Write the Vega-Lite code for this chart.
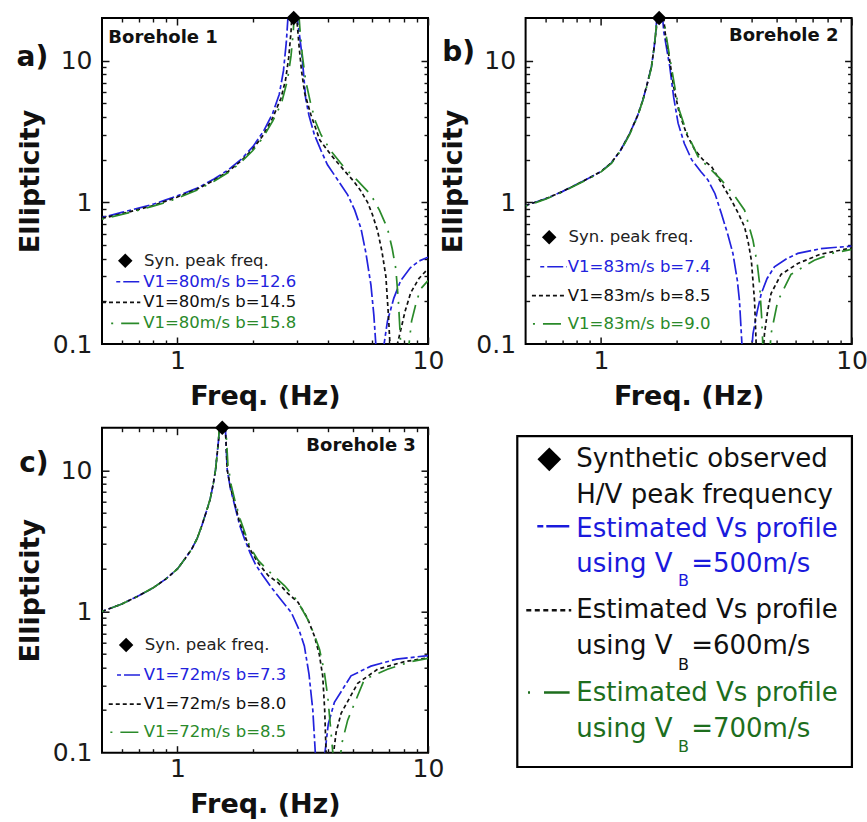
{
"$schema": "https://vega.github.io/schema/vega-lite/v6.json",
"background": "white",
"padding": {"left": 15, "top": 9, "right": 5, "bottom": 5},
"config": {"view": {"stroke": "black", "strokeWidth": 2}, "font": "DejaVu Sans"},
"datasets": {
"curves": [
{"p":"a","s":"b","f":0.5,"E":0.78},{"p":"a","s":"b","f":0.6,"E":0.85},{"p":"a","s":"b","f":0.7,"E":0.91},{"p":"a","s":"b","f":0.8,"E":0.97},{"p":"a","s":"b","f":0.9,"E":1.04},{"p":"a","s":"b","f":1.0,"E":1.11},{"p":"a","s":"b","f":1.2,"E":1.26},{"p":"a","s":"b","f":1.4,"E":1.46},{"p":"a","s":"b","f":1.6,"E":1.7},{"p":"a","s":"b","f":1.8,"E":2.02},{"p":"a","s":"b","f":2.0,"E":2.47},{"p":"a","s":"b","f":2.2,"E":3.15},{"p":"a","s":"b","f":2.4,"E":4.25},{"p":"a","s":"b","f":2.55,"E":5.8},{"p":"a","s":"b","f":2.65,"E":8.5},{"p":"a","s":"b","f":2.72,"E":13.5},{"p":"a","s":"b","f":2.77,"E":22},{"p":"a","s":"b","f":2.82,"E":45},{"p":"a","s":"b","f":2.88,"E":40},{"p":"a","s":"b","f":2.95,"E":28},{"p":"a","s":"b","f":3.02,"E":19},{"p":"a","s":"b","f":3.08,"E":14.5},{"p":"a","s":"b","f":3.13,"E":11.5},{"p":"a","s":"b","f":3.19,"E":8},{"p":"a","s":"b","f":3.25,"E":5.4},{"p":"a","s":"b","f":3.35,"E":4.1},{"p":"a","s":"b","f":3.52,"E":3.0},{"p":"a","s":"b","f":3.75,"E":2.3},{"p":"a","s":"b","f":3.97,"E":1.84},{"p":"a","s":"b","f":4.35,"E":1.45},{"p":"a","s":"b","f":4.78,"E":1.13},{"p":"a","s":"b","f":5.1,"E":0.88},{"p":"a","s":"b","f":5.4,"E":0.655},{"p":"a","s":"b","f":5.65,"E":0.44},{"p":"a","s":"b","f":5.92,"E":0.26},{"p":"a","s":"b","f":6.08,"E":0.16},{"p":"a","s":"b","f":6.19,"E":0.1},{"p":"a","s":"b","f":6.32,"E":0.04},{"p":"a","s":"b","f":6.45,"E":0.015},{"p":"a","s":"b","f":6.57,"E":0.04},{"p":"a","s":"b","f":6.68,"E":0.1},{"p":"a","s":"b","f":6.89,"E":0.145},{"p":"a","s":"b","f":7.3,"E":0.21},{"p":"a","s":"b","f":7.78,"E":0.28},{"p":"a","s":"b","f":8.5,"E":0.345},{"p":"a","s":"b","f":9.2,"E":0.385},{"p":"a","s":"b","f":10,"E":0.41},
{"p":"a","s":"k","f":0.5,"E":0.77},{"p":"a","s":"k","f":0.6,"E":0.83},{"p":"a","s":"k","f":0.7,"E":0.89},{"p":"a","s":"k","f":0.8,"E":0.95},{"p":"a","s":"k","f":0.9,"E":1.02},{"p":"a","s":"k","f":1.0,"E":1.09},{"p":"a","s":"k","f":1.2,"E":1.24},{"p":"a","s":"k","f":1.4,"E":1.43},{"p":"a","s":"k","f":1.6,"E":1.66},{"p":"a","s":"k","f":1.8,"E":1.97},{"p":"a","s":"k","f":2.0,"E":2.38},{"p":"a","s":"k","f":2.2,"E":2.98},{"p":"a","s":"k","f":2.4,"E":3.95},{"p":"a","s":"k","f":2.59,"E":5.43},{"p":"a","s":"k","f":2.7,"E":7.3},{"p":"a","s":"k","f":2.78,"E":10.5},{"p":"a","s":"k","f":2.84,"E":16},{"p":"a","s":"k","f":2.88,"E":26},{"p":"a","s":"k","f":2.91,"E":45},{"p":"a","s":"k","f":2.95,"E":30},{"p":"a","s":"k","f":3.0,"E":19},{"p":"a","s":"k","f":3.06,"E":12.5},{"p":"a","s":"k","f":3.13,"E":8.4},{"p":"a","s":"k","f":3.22,"E":5.9},{"p":"a","s":"k","f":3.41,"E":4.15},{"p":"a","s":"k","f":3.7,"E":2.75},{"p":"a","s":"k","f":4.1,"E":2.16},{"p":"a","s":"k","f":4.6,"E":1.7},{"p":"a","s":"k","f":5.07,"E":1.4},{"p":"a","s":"k","f":5.4,"E":1.2},{"p":"a","s":"k","f":5.74,"E":1.0},{"p":"a","s":"k","f":6.0,"E":0.82},{"p":"a","s":"k","f":6.29,"E":0.63},{"p":"a","s":"k","f":6.55,"E":0.45},{"p":"a","s":"k","f":6.79,"E":0.3},{"p":"a","s":"k","f":6.95,"E":0.16},{"p":"a","s":"k","f":7.05,"E":0.1},{"p":"a","s":"k","f":7.2,"E":0.03},{"p":"a","s":"k","f":7.35,"E":0.06},{"p":"a","s":"k","f":7.55,"E":0.1},{"p":"a","s":"k","f":7.78,"E":0.125},{"p":"a","s":"k","f":8.1,"E":0.17},{"p":"a","s":"k","f":8.53,"E":0.23},{"p":"a","s":"k","f":9.2,"E":0.29},{"p":"a","s":"k","f":10,"E":0.34},
{"p":"a","s":"g","f":0.5,"E":0.76},{"p":"a","s":"g","f":0.6,"E":0.82},{"p":"a","s":"g","f":0.7,"E":0.88},{"p":"a","s":"g","f":0.8,"E":0.94},{"p":"a","s":"g","f":0.9,"E":1.0},{"p":"a","s":"g","f":1.0,"E":1.07},{"p":"a","s":"g","f":1.2,"E":1.22},{"p":"a","s":"g","f":1.4,"E":1.41},{"p":"a","s":"g","f":1.6,"E":1.63},{"p":"a","s":"g","f":1.8,"E":1.93},{"p":"a","s":"g","f":2.0,"E":2.32},{"p":"a","s":"g","f":2.2,"E":2.88},{"p":"a","s":"g","f":2.4,"E":3.75},{"p":"a","s":"g","f":2.6,"E":5.0},{"p":"a","s":"g","f":2.75,"E":7.3},{"p":"a","s":"g","f":2.84,"E":10.8},{"p":"a","s":"g","f":2.9,"E":16},{"p":"a","s":"g","f":2.94,"E":26},{"p":"a","s":"g","f":2.97,"E":45},{"p":"a","s":"g","f":3.02,"E":28},{"p":"a","s":"g","f":3.08,"E":17},{"p":"a","s":"g","f":3.15,"E":11},{"p":"a","s":"g","f":3.25,"E":7.2},{"p":"a","s":"g","f":3.4,"E":5.0},{"p":"a","s":"g","f":3.56,"E":3.7},{"p":"a","s":"g","f":3.74,"E":3.0},{"p":"a","s":"g","f":4.1,"E":2.3},{"p":"a","s":"g","f":4.63,"E":1.76},{"p":"a","s":"g","f":5.2,"E":1.44},{"p":"a","s":"g","f":5.92,"E":1.13},{"p":"a","s":"g","f":6.4,"E":0.88},{"p":"a","s":"g","f":6.89,"E":0.655},{"p":"a","s":"g","f":7.2,"E":0.47},{"p":"a","s":"g","f":7.44,"E":0.34},{"p":"a","s":"g","f":7.62,"E":0.2},{"p":"a","s":"g","f":7.78,"E":0.1},{"p":"a","s":"g","f":7.95,"E":0.04},{"p":"a","s":"g","f":8.1,"E":0.02},{"p":"a","s":"g","f":8.25,"E":0.06},{"p":"a","s":"g","f":8.4,"E":0.1},{"p":"a","s":"g","f":8.6,"E":0.145},{"p":"a","s":"g","f":9.0,"E":0.2},{"p":"a","s":"g","f":9.35,"E":0.245},{"p":"a","s":"g","f":10,"E":0.28},
{"p":"b","s":"b","f":0.5,"E":0.95},{"p":"b","s":"b","f":0.6,"E":1.06},{"p":"b","s":"b","f":0.7,"E":1.19},{"p":"b","s":"b","f":0.8,"E":1.34},{"p":"b","s":"b","f":0.9,"E":1.49},{"p":"b","s":"b","f":1.0,"E":1.65},{"p":"b","s":"b","f":1.1,"E":1.9},{"p":"b","s":"b","f":1.2,"E":2.35},{"p":"b","s":"b","f":1.3,"E":3.05},{"p":"b","s":"b","f":1.4,"E":4.1},{"p":"b","s":"b","f":1.47,"E":5.3},{"p":"b","s":"b","f":1.53,"E":6.9},{"p":"b","s":"b","f":1.59,"E":9.1},{"p":"b","s":"b","f":1.63,"E":12.5},{"p":"b","s":"b","f":1.66,"E":17},{"p":"b","s":"b","f":1.68,"E":28},{"p":"b","s":"b","f":1.7,"E":45},{"p":"b","s":"b","f":1.74,"E":26},{"p":"b","s":"b","f":1.78,"E":16},{"p":"b","s":"b","f":1.83,"E":12},{"p":"b","s":"b","f":1.88,"E":9.1},{"p":"b","s":"b","f":1.95,"E":5.5},{"p":"b","s":"b","f":2.03,"E":3.62},{"p":"b","s":"b","f":2.15,"E":2.6},{"p":"b","s":"b","f":2.3,"E":2.0},{"p":"b","s":"b","f":2.5,"E":1.65},{"p":"b","s":"b","f":2.67,"E":1.44},{"p":"b","s":"b","f":2.85,"E":1.15},{"p":"b","s":"b","f":3.02,"E":0.836},{"p":"b","s":"b","f":3.2,"E":0.6},{"p":"b","s":"b","f":3.36,"E":0.436},{"p":"b","s":"b","f":3.5,"E":0.28},{"p":"b","s":"b","f":3.57,"E":0.2},{"p":"b","s":"b","f":3.65,"E":0.1},{"p":"b","s":"b","f":3.75,"E":0.04},{"p":"b","s":"b","f":3.85,"E":0.02},{"p":"b","s":"b","f":3.95,"E":0.07},{"p":"b","s":"b","f":4.04,"E":0.118},{"p":"b","s":"b","f":4.2,"E":0.17},{"p":"b","s":"b","f":4.36,"E":0.227},{"p":"b","s":"b","f":4.6,"E":0.29},{"p":"b","s":"b","f":4.92,"E":0.35},{"p":"b","s":"b","f":5.5,"E":0.4},{"p":"b","s":"b","f":6.1,"E":0.436},{"p":"b","s":"b","f":7.5,"E":0.47},{"p":"b","s":"b","f":8.5,"E":0.48},{"p":"b","s":"b","f":10,"E":0.49},
{"p":"b","s":"k","f":0.5,"E":0.95},{"p":"b","s":"k","f":0.6,"E":1.06},{"p":"b","s":"k","f":0.7,"E":1.19},{"p":"b","s":"k","f":0.8,"E":1.34},{"p":"b","s":"k","f":0.9,"E":1.49},{"p":"b","s":"k","f":1.0,"E":1.65},{"p":"b","s":"k","f":1.1,"E":1.9},{"p":"b","s":"k","f":1.2,"E":2.35},{"p":"b","s":"k","f":1.3,"E":3.05},{"p":"b","s":"k","f":1.4,"E":4.1},{"p":"b","s":"k","f":1.47,"E":5.3},{"p":"b","s":"k","f":1.53,"E":6.9},{"p":"b","s":"k","f":1.59,"E":9.1},{"p":"b","s":"k","f":1.63,"E":12.5},{"p":"b","s":"k","f":1.67,"E":18},{"p":"b","s":"k","f":1.69,"E":28},{"p":"b","s":"k","f":1.71,"E":45},{"p":"b","s":"k","f":1.73,"E":40},{"p":"b","s":"k","f":1.76,"E":25},{"p":"b","s":"k","f":1.8,"E":16},{"p":"b","s":"k","f":1.88,"E":10},{"p":"b","s":"k","f":1.95,"E":6.5},{"p":"b","s":"k","f":2.05,"E":4.3},{"p":"b","s":"k","f":2.2,"E":3.0},{"p":"b","s":"k","f":2.37,"E":2.34},{"p":"b","s":"k","f":2.55,"E":2.0},{"p":"b","s":"k","f":2.76,"E":1.79},{"p":"b","s":"k","f":3.0,"E":1.4},{"p":"b","s":"k","f":3.31,"E":1.04},{"p":"b","s":"k","f":3.55,"E":0.82},{"p":"b","s":"k","f":3.74,"E":0.67},{"p":"b","s":"k","f":3.87,"E":0.52},{"p":"b","s":"k","f":3.98,"E":0.39},{"p":"b","s":"k","f":4.1,"E":0.2},{"p":"b","s":"k","f":4.16,"E":0.1},{"p":"b","s":"k","f":4.25,"E":0.03},{"p":"b","s":"k","f":4.32,"E":0.02},{"p":"b","s":"k","f":4.4,"E":0.07},{"p":"b","s":"k","f":4.49,"E":0.118},{"p":"b","s":"k","f":4.62,"E":0.17},{"p":"b","s":"k","f":4.77,"E":0.227},{"p":"b","s":"k","f":5.23,"E":0.31},{"p":"b","s":"k","f":6.1,"E":0.37},{"p":"b","s":"k","f":7.5,"E":0.43},{"p":"b","s":"k","f":9.6,"E":0.47},{"p":"b","s":"k","f":10,"E":0.475},
{"p":"b","s":"g","f":0.5,"E":0.94},{"p":"b","s":"g","f":0.6,"E":1.05},{"p":"b","s":"g","f":0.7,"E":1.18},{"p":"b","s":"g","f":0.8,"E":1.33},{"p":"b","s":"g","f":0.9,"E":1.48},{"p":"b","s":"g","f":1.0,"E":1.64},{"p":"b","s":"g","f":1.1,"E":1.88},{"p":"b","s":"g","f":1.2,"E":2.32},{"p":"b","s":"g","f":1.3,"E":3.0},{"p":"b","s":"g","f":1.4,"E":4.05},{"p":"b","s":"g","f":1.47,"E":5.25},{"p":"b","s":"g","f":1.53,"E":6.8},{"p":"b","s":"g","f":1.59,"E":9.0},{"p":"b","s":"g","f":1.63,"E":12.5},{"p":"b","s":"g","f":1.66,"E":17},{"p":"b","s":"g","f":1.68,"E":27},{"p":"b","s":"g","f":1.7,"E":45},{"p":"b","s":"g","f":1.74,"E":35},{"p":"b","s":"g","f":1.77,"E":22},{"p":"b","s":"g","f":1.82,"E":15},{"p":"b","s":"g","f":1.9,"E":9.5},{"p":"b","s":"g","f":1.97,"E":6.5},{"p":"b","s":"g","f":2.05,"E":4.5},{"p":"b","s":"g","f":2.2,"E":3.1},{"p":"b","s":"g","f":2.44,"E":2.1},{"p":"b","s":"g","f":2.7,"E":1.75},{"p":"b","s":"g","f":3.02,"E":1.44},{"p":"b","s":"g","f":3.4,"E":1.12},{"p":"b","s":"g","f":3.74,"E":0.88},{"p":"b","s":"g","f":4.04,"E":0.54},{"p":"b","s":"g","f":4.2,"E":0.37},{"p":"b","s":"g","f":4.29,"E":0.27},{"p":"b","s":"g","f":4.38,"E":0.15},{"p":"b","s":"g","f":4.42,"E":0.1},{"p":"b","s":"g","f":4.52,"E":0.03},{"p":"b","s":"g","f":4.62,"E":0.03},{"p":"b","s":"g","f":4.7,"E":0.08},{"p":"b","s":"g","f":4.77,"E":0.118},{"p":"b","s":"g","f":5.07,"E":0.2},{"p":"b","s":"g","f":5.73,"E":0.31},{"p":"b","s":"g","f":7.1,"E":0.39},{"p":"b","s":"g","f":8.5,"E":0.44},{"p":"b","s":"g","f":10,"E":0.465},
{"p":"c","s":"b","f":0.5,"E":1.0},{"p":"c","s":"b","f":0.6,"E":1.13},{"p":"c","s":"b","f":0.7,"E":1.29},{"p":"c","s":"b","f":0.8,"E":1.47},{"p":"c","s":"b","f":0.9,"E":1.7},{"p":"c","s":"b","f":1.0,"E":2.0},{"p":"c","s":"b","f":1.07,"E":2.35},{"p":"c","s":"b","f":1.14,"E":2.76},{"p":"c","s":"b","f":1.2,"E":3.3},{"p":"c","s":"b","f":1.25,"E":4.03},{"p":"c","s":"b","f":1.3,"E":5.0},{"p":"c","s":"b","f":1.35,"E":6.2},{"p":"c","s":"b","f":1.39,"E":8.0},{"p":"c","s":"b","f":1.42,"E":10.1},{"p":"c","s":"b","f":1.46,"E":16.5},{"p":"c","s":"b","f":1.49,"E":30},{"p":"c","s":"b","f":1.51,"E":50},{"p":"c","s":"b","f":1.53,"E":40},{"p":"c","s":"b","f":1.55,"E":22},{"p":"c","s":"b","f":1.58,"E":10.1},{"p":"c","s":"b","f":1.63,"E":7.3},{"p":"c","s":"b","f":1.69,"E":5.7},{"p":"c","s":"b","f":1.77,"E":4.1},{"p":"c","s":"b","f":1.86,"E":3.2},{"p":"c","s":"b","f":1.95,"E":2.6},{"p":"c","s":"b","f":2.05,"E":2.15},{"p":"c","s":"b","f":2.2,"E":1.78},{"p":"c","s":"b","f":2.37,"E":1.48},{"p":"c","s":"b","f":2.6,"E":1.2},{"p":"c","s":"b","f":2.85,"E":0.98},{"p":"c","s":"b","f":3.05,"E":0.75},{"p":"c","s":"b","f":3.21,"E":0.57},{"p":"c","s":"b","f":3.35,"E":0.36},{"p":"c","s":"b","f":3.47,"E":0.2},{"p":"c","s":"b","f":3.55,"E":0.1},{"p":"c","s":"b","f":3.7,"E":0.03},{"p":"c","s":"b","f":3.88,"E":0.1},{"p":"c","s":"b","f":4.0,"E":0.16},{"p":"c","s":"b","f":4.23,"E":0.227},{"p":"c","s":"b","f":4.93,"E":0.35},{"p":"c","s":"b","f":5.92,"E":0.41},{"p":"c","s":"b","f":7.5,"E":0.46},{"p":"c","s":"b","f":10,"E":0.487},
{"p":"c","s":"k","f":0.5,"E":1.0},{"p":"c","s":"k","f":0.6,"E":1.13},{"p":"c","s":"k","f":0.7,"E":1.29},{"p":"c","s":"k","f":0.8,"E":1.47},{"p":"c","s":"k","f":0.9,"E":1.7},{"p":"c","s":"k","f":1.0,"E":2.0},{"p":"c","s":"k","f":1.07,"E":2.35},{"p":"c","s":"k","f":1.14,"E":2.76},{"p":"c","s":"k","f":1.2,"E":3.3},{"p":"c","s":"k","f":1.25,"E":4.03},{"p":"c","s":"k","f":1.3,"E":5.0},{"p":"c","s":"k","f":1.35,"E":6.2},{"p":"c","s":"k","f":1.39,"E":8.0},{"p":"c","s":"k","f":1.42,"E":10.1},{"p":"c","s":"k","f":1.46,"E":16.5},{"p":"c","s":"k","f":1.49,"E":30},{"p":"c","s":"k","f":1.51,"E":50},{"p":"c","s":"k","f":1.53,"E":40},{"p":"c","s":"k","f":1.55,"E":22},{"p":"c","s":"k","f":1.58,"E":10.1},{"p":"c","s":"k","f":1.63,"E":7.5},{"p":"c","s":"k","f":1.69,"E":5.9},{"p":"c","s":"k","f":1.77,"E":4.3},{"p":"c","s":"k","f":1.86,"E":3.42},{"p":"c","s":"k","f":1.95,"E":2.75},{"p":"c","s":"k","f":2.1,"E":2.2},{"p":"c","s":"k","f":2.3,"E":1.8},{"p":"c","s":"k","f":2.52,"E":1.6},{"p":"c","s":"k","f":2.75,"E":1.35},{"p":"c","s":"k","f":3.03,"E":1.16},{"p":"c","s":"k","f":3.3,"E":0.9},{"p":"c","s":"k","f":3.52,"E":0.67},{"p":"c","s":"k","f":3.68,"E":0.5},{"p":"c","s":"k","f":3.8,"E":0.35},{"p":"c","s":"k","f":3.87,"E":0.2},{"p":"c","s":"k","f":3.92,"E":0.1},{"p":"c","s":"k","f":4.0,"E":0.03},{"p":"c","s":"k","f":4.1,"E":0.06},{"p":"c","s":"k","f":4.2,"E":0.1},{"p":"c","s":"k","f":4.3,"E":0.14},{"p":"c","s":"k","f":4.5,"E":0.19},{"p":"c","s":"k","f":5.24,"E":0.31},{"p":"c","s":"k","f":6.29,"E":0.39},{"p":"c","s":"k","f":8,"E":0.44},{"p":"c","s":"k","f":10,"E":0.47},
{"p":"c","s":"g","f":0.5,"E":1.0},{"p":"c","s":"g","f":0.6,"E":1.13},{"p":"c","s":"g","f":0.7,"E":1.29},{"p":"c","s":"g","f":0.8,"E":1.47},{"p":"c","s":"g","f":0.9,"E":1.7},{"p":"c","s":"g","f":1.0,"E":2.0},{"p":"c","s":"g","f":1.07,"E":2.35},{"p":"c","s":"g","f":1.14,"E":2.76},{"p":"c","s":"g","f":1.2,"E":3.3},{"p":"c","s":"g","f":1.25,"E":4.03},{"p":"c","s":"g","f":1.3,"E":5.0},{"p":"c","s":"g","f":1.35,"E":6.2},{"p":"c","s":"g","f":1.39,"E":8.0},{"p":"c","s":"g","f":1.42,"E":10.1},{"p":"c","s":"g","f":1.46,"E":16.5},{"p":"c","s":"g","f":1.5,"E":40},{"p":"c","s":"g","f":1.52,"E":50},{"p":"c","s":"g","f":1.54,"E":35},{"p":"c","s":"g","f":1.56,"E":20},{"p":"c","s":"g","f":1.59,"E":11},{"p":"c","s":"g","f":1.64,"E":7.8},{"p":"c","s":"g","f":1.7,"E":6.0},{"p":"c","s":"g","f":1.78,"E":4.5},{"p":"c","s":"g","f":1.86,"E":3.6},{"p":"c","s":"g","f":1.95,"E":2.85},{"p":"c","s":"g","f":2.1,"E":2.3},{"p":"c","s":"g","f":2.3,"E":1.95},{"p":"c","s":"g","f":2.5,"E":1.7},{"p":"c","s":"g","f":2.68,"E":1.52},{"p":"c","s":"g","f":3.0,"E":1.2},{"p":"c","s":"g","f":3.31,"E":0.88},{"p":"c","s":"g","f":3.5,"E":0.7},{"p":"c","s":"g","f":3.69,"E":0.54},{"p":"c","s":"g","f":3.85,"E":0.38},{"p":"c","s":"g","f":3.98,"E":0.25},{"p":"c","s":"g","f":4.1,"E":0.14},{"p":"c","s":"g","f":4.17,"E":0.1},{"p":"c","s":"g","f":4.25,"E":0.04},{"p":"c","s":"g","f":4.35,"E":0.04},{"p":"c","s":"g","f":4.45,"E":0.09},{"p":"c","s":"g","f":4.55,"E":0.12},{"p":"c","s":"g","f":4.78,"E":0.17},{"p":"c","s":"g","f":5.57,"E":0.33},{"p":"c","s":"g","f":6.89,"E":0.39},{"p":"c","s":"g","f":8.5,"E":0.44},{"p":"c","s":"g","f":10,"E":0.465}
],
"diamonds": [
{"p":"a","f":2.91,"E":20},{"p":"b","f":1.706,"E":20},{"p":"c","f":1.51,"E":20},
{"p":"a","f":0.619,"E":0.387},{"p":"b","f":0.621,"E":0.566},{"p":"c","f":0.624,"E":0.578}
],
"legtext": [
{"p":"a","s":"n","f":0.735,"E":0.387,"t":"Syn. peak freq."},{"p":"a","s":"b","f":0.73,"E":0.275,"t":"V1=80m/s b=12.6"},{"p":"a","s":"k","f":0.73,"E":0.197,"t":"V1=80m/s b=14.5"},{"p":"a","s":"g","f":0.73,"E":0.14,"t":"V1=80m/s b=15.8"},
{"p":"b","s":"n","f":0.742,"E":0.566,"t":"Syn. peak freq."},{"p":"b","s":"b","f":0.737,"E":0.351,"t":"V1=83m/s b=7.4"},{"p":"b","s":"k","f":0.737,"E":0.2195,"t":"V1=83m/s b=8.5"},{"p":"b","s":"g","f":0.737,"E":0.1386,"t":"V1=83m/s b=9.0"},
{"p":"c","s":"n","f":0.74,"E":0.578,"t":"Syn. peak freq."},{"p":"c","s":"b","f":0.733,"E":0.355,"t":"V1=72m/s b=7.3"},{"p":"c","s":"k","f":0.733,"E":0.221,"t":"V1=72m/s b=8.0"},{"p":"c","s":"g","f":0.733,"E":0.1396,"t":"V1=72m/s b=8.5"}
],
"legrules": [
{"p":"a","s":"b","f1":0.57,"f2":0.711,"E":0.275},{"p":"a","s":"k","f1":0.5,"f2":0.711,"E":0.197},{"p":"a","s":"g","f1":0.544,"f2":0.704,"E":0.14},
{"p":"b","s":"b","f1":0.572,"f2":0.73,"E":0.351},{"p":"b","s":"k","f1":0.53,"f2":0.73,"E":0.2195},{"p":"b","s":"g","f1":0.535,"f2":0.73,"E":0.1386},
{"p":"c","s":"b","f1":0.574,"f2":0.722,"E":0.355},{"p":"c","s":"k","f1":0.532,"f2":0.722,"E":0.221},{"p":"c","s":"g","f1":0.54,"f2":0.722,"E":0.1396}
],
"letters": [
{"p":"a","f":0.228,"E":10.37,"t":"a)"},{"p":"b","f":0.2324,"E":11.24,"t":"b)"},{"p":"c","f":0.2335,"E":11.06,"t":"c)"}
],
"boreholes": [
{"p":"a","f":0.53,"E":14.35,"t":"Borehole 1"},{"p":"b","f":3.24,"E":14.89,"t":"Borehole 2"},{"p":"c","f":3.27,"E":14.9,"t":"Borehole 3"}
],
"bigtext": [
{"x":15.55,"y":90.7,"t":"Synthetic observed","s":"n"},
{"x":15.55,"y":80.1,"t":"H/V peak frequency","s":"n"},
{"x":15.55,"y":70.2,"t":"Estimated Vs profile","s":"b"},
{"x":15.55,"y":60.0,"t":"using V","s":"b"},
{"x":50.8,"y":60.0,"t":"=500m/s","s":"b"},
{"x":15.55,"y":46.3,"t":"Estimated Vs profile","s":"k"},
{"x":15.55,"y":35.8,"t":"using V","s":"k"},
{"x":50.8,"y":35.8,"t":"=600m/s","s":"k"},
{"x":15.55,"y":22.1,"t":"Estimated Vs profile","s":"g"},
{"x":15.55,"y":11.5,"t":"using V","s":"g"},
{"x":50.8,"y":11.5,"t":"=700m/s","s":"g"}
],
"bigsub": [
{"x":46.75,"y":54.8,"t":"B","s":"b"},{"x":46.75,"y":30.3,"t":"B","s":"k"},{"x":46.75,"y":6.1,"t":"B","s":"g"}
],
"bigrules": [
{"x1":3.59,"x2":13.4,"y":71.0,"s":"b"},{"x1":0.21,"x2":14.0,"y":46.3,"s":"k"},{"x1":0.74,"x2":13.5,"y":22.1,"s":"g"}
],
"bigdiamond": [{"x":7.27,"y":90.7}],
"bigbox": [{"x1":-2.55,"x2":100.1,"y1":0.2,"y2":97.5}]
},
"resolve": {"scale": {"x": "independent", "y": "independent", "color": "independent", "strokeDash": "independent"}},
"bounds": "flush",
"columns": 2,
"spacing": {"row": 83.7, "column": 97.6},
"concat": [
{
"width": 326, "height": 326,
"resolve": {"axis": {"x": "independent", "y": "independent"}},
"layer": [
{"data": {"name": "curves"}, "transform": [{"filter": "datum.p == 'a'"}],
 "mark": {"type": "line", "clip": true, "strokeWidth": 1.7},
 "encoding": {
  "x": {"field": "f", "type": "quantitative", "scale": {"type": "log", "domain": [0.5, 10], "nice": false}, "axis": {"orient": "bottom", "values": [1, 10], "format": "~g", "ticks": false, "domain": false, "grid": false, "labelFont": "DejaVu Sans", "labelFontSize": 25, "labelColor": "#1a1a1a", "labelPadding": 4, "labelFlush": false, "labelOverlap": false, "title": "Freq. (Hz)", "titleFont": "DejaVu Sans", "titleFontSize": 27, "titleFontWeight": "bold", "titleColor": "#111111", "titlePadding": 10}},
  "y": {"field": "E", "type": "quantitative", "scale": {"type": "log", "domain": [0.1, 20], "nice": false}, "axis": {"orient": "left", "values": [0.1, 1, 10], "format": "~g", "ticks": false, "domain": false, "grid": false, "labelFont": "DejaVu Sans", "labelFontSize": 25, "labelColor": "#1a1a1a", "labelPadding": 10, "labelFlush": false, "labelOverlap": false, "title": "Ellipticity", "titleFont": "DejaVu Sans", "titleFontSize": 27, "titleFontWeight": "bold", "titleColor": "#111111", "titlePadding": 8}},
  "color": {"field": "s", "type": "nominal", "scale": {"domain": ["b", "k", "g", "n"], "range": ["#2222dd", "#111111", "#2a8a2a", "#222222"]}, "legend": null},
  "strokeDash": {"field": "s", "type": "nominal", "scale": {"domain": ["b", "k", "g"], "range": [[4, 3, 16, 3], [4, 3], [2, 8, 18, 8]]}, "legend": null}
 }},
{"data": {"name": "diamonds"}, "transform": [{"filter": "datum.p == 'a'"}],
 "mark": {"type": "point", "shape": "diamond", "filled": true, "color": "black", "size": 210, "opacity": 1},
 "encoding": {
  "x": {"field": "f", "type": "quantitative", "axis": {"orient": "bottom", "values": [1, 10], "labels": false, "domain": false, "grid": false, "ticks": true, "tickSize": -7, "tickWidth": 1.5, "tickColor": "#111111", "title": null}},
  "y": {"field": "E", "type": "quantitative", "axis": {"orient": "left", "values": [1, 10], "labels": false, "domain": false, "grid": false, "ticks": true, "tickSize": -7, "tickWidth": 1.5, "tickColor": "#111111", "title": null}}
 }},
{"data": {"name": "legtext"}, "transform": [{"filter": "datum.p == 'a'"}],
 "mark": {"type": "text", "align": "left", "baseline": "middle", "font": "DejaVu Sans", "fontSize": 16.5},
 "encoding": {
  "x": {"field": "f", "type": "quantitative", "axis": {"orient": "bottom", "values": [0.6, 0.7, 0.8, 0.9, 2, 3, 4, 5, 6, 7, 8, 9], "labels": false, "domain": false, "grid": false, "ticks": true, "tickSize": -4, "tickWidth": 1.4, "tickColor": "#111111", "title": null}},
  "y": {"field": "E", "type": "quantitative", "axis": {"orient": "left", "values": [0.2, 0.3, 0.4, 0.5, 0.6, 0.7, 0.8, 0.9, 2, 3, 4, 5, 6, 7, 8, 9], "labels": false, "domain": false, "grid": false, "ticks": true, "tickSize": -4, "tickWidth": 1.4, "tickColor": "#111111", "title": null}},
  "text": {"field": "t"},
  "color": {"field": "s", "type": "nominal", "legend": null}
 }},
{"data": {"name": "letters"}, "transform": [{"filter": "datum.p == 'a'"}],
 "mark": {"type": "text", "align": "left", "baseline": "middle", "font": "DejaVu Sans", "fontSize": 28, "fontWeight": "bold", "color": "#111111"},
 "encoding": {
  "x": {"field": "f", "type": "quantitative", "axis": {"orient": "top", "values": [1, 10], "labels": false, "domain": false, "grid": false, "ticks": true, "tickSize": -7, "tickWidth": 1.5, "tickColor": "#111111", "title": null}},
  "y": {"field": "E", "type": "quantitative", "axis": {"orient": "right", "values": [1, 10], "labels": false, "domain": false, "grid": false, "ticks": true, "tickSize": -7, "tickWidth": 1.5, "tickColor": "#111111", "title": null}},
  "text": {"field": "t"}
 }},
{"data": {"name": "boreholes"}, "transform": [{"filter": "datum.p == 'a'"}],
 "mark": {"type": "text", "align": "left", "baseline": "middle", "font": "DejaVu Sans", "fontSize": 18, "fontWeight": "bold", "color": "#111111"},
 "encoding": {
  "x": {"field": "f", "type": "quantitative", "axis": {"orient": "top", "values": [0.6, 0.7, 0.8, 0.9, 2, 3, 4, 5, 6, 7, 8, 9], "labels": false, "domain": false, "grid": false, "ticks": true, "tickSize": -4, "tickWidth": 1.4, "tickColor": "#111111", "title": null}},
  "y": {"field": "E", "type": "quantitative", "axis": {"orient": "right", "values": [0.2, 0.3, 0.4, 0.5, 0.6, 0.7, 0.8, 0.9, 2, 3, 4, 5, 6, 7, 8, 9], "labels": false, "domain": false, "grid": false, "ticks": true, "tickSize": -4, "tickWidth": 1.4, "tickColor": "#111111", "title": null}},
  "text": {"field": "t"}
 }},
{"data": {"name": "legrules"}, "transform": [{"filter": "datum.p == 'a'"}],
 "mark": {"type": "rule", "strokeWidth": 1.7},
 "encoding": {
  "x": {"field": "f1", "type": "quantitative", "axis": null},
  "x2": {"field": "f2"},
  "y": {"field": "E", "type": "quantitative", "axis": null},
  "color": {"field": "s", "type": "nominal", "legend": null},
  "strokeDash": {"field": "s", "type": "nominal", "legend": null}
 }}
]
},
{
"width": 326, "height": 326,
"resolve": {"axis": {"x": "independent", "y": "independent"}},
"layer": [
{"data": {"name": "curves"}, "transform": [{"filter": "datum.p == 'b'"}],
 "mark": {"type": "line", "clip": true, "strokeWidth": 1.7},
 "encoding": {
  "x": {"field": "f", "type": "quantitative", "scale": {"type": "log", "domain": [0.5, 10], "nice": false}, "axis": {"orient": "bottom", "values": [1, 10], "format": "~g", "ticks": false, "domain": false, "grid": false, "labelFont": "DejaVu Sans", "labelFontSize": 25, "labelColor": "#1a1a1a", "labelPadding": 4, "labelFlush": false, "labelOverlap": false, "title": "Freq. (Hz)", "titleFont": "DejaVu Sans", "titleFontSize": 27, "titleFontWeight": "bold", "titleColor": "#111111", "titlePadding": 10}},
  "y": {"field": "E", "type": "quantitative", "scale": {"type": "log", "domain": [0.1, 20], "nice": false}, "axis": {"orient": "left", "values": [0.1, 1, 10], "format": "~g", "ticks": false, "domain": false, "grid": false, "labelFont": "DejaVu Sans", "labelFontSize": 25, "labelColor": "#1a1a1a", "labelPadding": 10, "labelFlush": false, "labelOverlap": false, "title": "Ellipticity", "titleFont": "DejaVu Sans", "titleFontSize": 27, "titleFontWeight": "bold", "titleColor": "#111111", "titlePadding": 8}},
  "color": {"field": "s", "type": "nominal", "scale": {"domain": ["b", "k", "g", "n"], "range": ["#2222dd", "#111111", "#2a8a2a", "#222222"]}, "legend": null},
  "strokeDash": {"field": "s", "type": "nominal", "scale": {"domain": ["b", "k", "g"], "range": [[4, 3, 16, 3], [4, 3], [2, 8, 18, 8]]}, "legend": null}
 }},
{"data": {"name": "diamonds"}, "transform": [{"filter": "datum.p == 'b'"}],
 "mark": {"type": "point", "shape": "diamond", "filled": true, "color": "black", "size": 210, "opacity": 1},
 "encoding": {
  "x": {"field": "f", "type": "quantitative", "axis": {"orient": "bottom", "values": [1, 10], "labels": false, "domain": false, "grid": false, "ticks": true, "tickSize": -7, "tickWidth": 1.5, "tickColor": "#111111", "title": null}},
  "y": {"field": "E", "type": "quantitative", "axis": {"orient": "left", "values": [1, 10], "labels": false, "domain": false, "grid": false, "ticks": true, "tickSize": -7, "tickWidth": 1.5, "tickColor": "#111111", "title": null}}
 }},
{"data": {"name": "legtext"}, "transform": [{"filter": "datum.p == 'b'"}],
 "mark": {"type": "text", "align": "left", "baseline": "middle", "font": "DejaVu Sans", "fontSize": 16.5},
 "encoding": {
  "x": {"field": "f", "type": "quantitative", "axis": {"orient": "bottom", "values": [0.6, 0.7, 0.8, 0.9, 2, 3, 4, 5, 6, 7, 8, 9], "labels": false, "domain": false, "grid": false, "ticks": true, "tickSize": -4, "tickWidth": 1.4, "tickColor": "#111111", "title": null}},
  "y": {"field": "E", "type": "quantitative", "axis": {"orient": "left", "values": [0.2, 0.3, 0.4, 0.5, 0.6, 0.7, 0.8, 0.9, 2, 3, 4, 5, 6, 7, 8, 9], "labels": false, "domain": false, "grid": false, "ticks": true, "tickSize": -4, "tickWidth": 1.4, "tickColor": "#111111", "title": null}},
  "text": {"field": "t"},
  "color": {"field": "s", "type": "nominal", "legend": null}
 }},
{"data": {"name": "letters"}, "transform": [{"filter": "datum.p == 'b'"}],
 "mark": {"type": "text", "align": "left", "baseline": "middle", "font": "DejaVu Sans", "fontSize": 28, "fontWeight": "bold", "color": "#111111"},
 "encoding": {
  "x": {"field": "f", "type": "quantitative", "axis": {"orient": "top", "values": [1, 10], "labels": false, "domain": false, "grid": false, "ticks": true, "tickSize": -7, "tickWidth": 1.5, "tickColor": "#111111", "title": null}},
  "y": {"field": "E", "type": "quantitative", "axis": {"orient": "right", "values": [1, 10], "labels": false, "domain": false, "grid": false, "ticks": true, "tickSize": -7, "tickWidth": 1.5, "tickColor": "#111111", "title": null}},
  "text": {"field": "t"}
 }},
{"data": {"name": "boreholes"}, "transform": [{"filter": "datum.p == 'b'"}],
 "mark": {"type": "text", "align": "left", "baseline": "middle", "font": "DejaVu Sans", "fontSize": 18, "fontWeight": "bold", "color": "#111111"},
 "encoding": {
  "x": {"field": "f", "type": "quantitative", "axis": {"orient": "top", "values": [0.6, 0.7, 0.8, 0.9, 2, 3, 4, 5, 6, 7, 8, 9], "labels": false, "domain": false, "grid": false, "ticks": true, "tickSize": -4, "tickWidth": 1.4, "tickColor": "#111111", "title": null}},
  "y": {"field": "E", "type": "quantitative", "axis": {"orient": "right", "values": [0.2, 0.3, 0.4, 0.5, 0.6, 0.7, 0.8, 0.9, 2, 3, 4, 5, 6, 7, 8, 9], "labels": false, "domain": false, "grid": false, "ticks": true, "tickSize": -4, "tickWidth": 1.4, "tickColor": "#111111", "title": null}},
  "text": {"field": "t"}
 }},
{"data": {"name": "legrules"}, "transform": [{"filter": "datum.p == 'b'"}],
 "mark": {"type": "rule", "strokeWidth": 1.7},
 "encoding": {
  "x": {"field": "f1", "type": "quantitative", "axis": null},
  "x2": {"field": "f2"},
  "y": {"field": "E", "type": "quantitative", "axis": null},
  "color": {"field": "s", "type": "nominal", "legend": null},
  "strokeDash": {"field": "s", "type": "nominal", "legend": null}
 }}
]
},
{
"width": 326, "height": 325,
"resolve": {"axis": {"x": "independent", "y": "independent"}},
"layer": [
{"data": {"name": "curves"}, "transform": [{"filter": "datum.p == 'c'"}],
 "mark": {"type": "line", "clip": true, "strokeWidth": 1.7},
 "encoding": {
  "x": {"field": "f", "type": "quantitative", "scale": {"type": "log", "domain": [0.5, 10], "nice": false}, "axis": {"orient": "bottom", "values": [1, 10], "format": "~g", "ticks": false, "domain": false, "grid": false, "labelFont": "DejaVu Sans", "labelFontSize": 25, "labelColor": "#1a1a1a", "labelPadding": 4, "labelFlush": false, "labelOverlap": false, "title": "Freq. (Hz)", "titleFont": "DejaVu Sans", "titleFontSize": 27, "titleFontWeight": "bold", "titleColor": "#111111", "titlePadding": 10}},
  "y": {"field": "E", "type": "quantitative", "scale": {"type": "log", "domain": [0.1, 20], "nice": false}, "axis": {"orient": "left", "values": [0.1, 1, 10], "format": "~g", "ticks": false, "domain": false, "grid": false, "labelFont": "DejaVu Sans", "labelFontSize": 25, "labelColor": "#1a1a1a", "labelPadding": 10, "labelFlush": false, "labelOverlap": false, "title": "Ellipticity", "titleFont": "DejaVu Sans", "titleFontSize": 27, "titleFontWeight": "bold", "titleColor": "#111111", "titlePadding": 8}},
  "color": {"field": "s", "type": "nominal", "scale": {"domain": ["b", "k", "g", "n"], "range": ["#2222dd", "#111111", "#2a8a2a", "#222222"]}, "legend": null},
  "strokeDash": {"field": "s", "type": "nominal", "scale": {"domain": ["b", "k", "g"], "range": [[4, 3, 16, 3], [4, 3], [2, 8, 18, 8]]}, "legend": null}
 }},
{"data": {"name": "diamonds"}, "transform": [{"filter": "datum.p == 'c'"}],
 "mark": {"type": "point", "shape": "diamond", "filled": true, "color": "black", "size": 210, "opacity": 1},
 "encoding": {
  "x": {"field": "f", "type": "quantitative", "axis": {"orient": "bottom", "values": [1, 10], "labels": false, "domain": false, "grid": false, "ticks": true, "tickSize": -7, "tickWidth": 1.5, "tickColor": "#111111", "title": null}},
  "y": {"field": "E", "type": "quantitative", "axis": {"orient": "left", "values": [1, 10], "labels": false, "domain": false, "grid": false, "ticks": true, "tickSize": -7, "tickWidth": 1.5, "tickColor": "#111111", "title": null}}
 }},
{"data": {"name": "legtext"}, "transform": [{"filter": "datum.p == 'c'"}],
 "mark": {"type": "text", "align": "left", "baseline": "middle", "font": "DejaVu Sans", "fontSize": 16.5},
 "encoding": {
  "x": {"field": "f", "type": "quantitative", "axis": {"orient": "bottom", "values": [0.6, 0.7, 0.8, 0.9, 2, 3, 4, 5, 6, 7, 8, 9], "labels": false, "domain": false, "grid": false, "ticks": true, "tickSize": -4, "tickWidth": 1.4, "tickColor": "#111111", "title": null}},
  "y": {"field": "E", "type": "quantitative", "axis": {"orient": "left", "values": [0.2, 0.3, 0.4, 0.5, 0.6, 0.7, 0.8, 0.9, 2, 3, 4, 5, 6, 7, 8, 9], "labels": false, "domain": false, "grid": false, "ticks": true, "tickSize": -4, "tickWidth": 1.4, "tickColor": "#111111", "title": null}},
  "text": {"field": "t"},
  "color": {"field": "s", "type": "nominal", "legend": null}
 }},
{"data": {"name": "letters"}, "transform": [{"filter": "datum.p == 'c'"}],
 "mark": {"type": "text", "align": "left", "baseline": "middle", "font": "DejaVu Sans", "fontSize": 28, "fontWeight": "bold", "color": "#111111"},
 "encoding": {
  "x": {"field": "f", "type": "quantitative", "axis": {"orient": "top", "values": [1, 10], "labels": false, "domain": false, "grid": false, "ticks": true, "tickSize": -7, "tickWidth": 1.5, "tickColor": "#111111", "title": null}},
  "y": {"field": "E", "type": "quantitative", "axis": {"orient": "right", "values": [1, 10], "labels": false, "domain": false, "grid": false, "ticks": true, "tickSize": -7, "tickWidth": 1.5, "tickColor": "#111111", "title": null}},
  "text": {"field": "t"}
 }},
{"data": {"name": "boreholes"}, "transform": [{"filter": "datum.p == 'c'"}],
 "mark": {"type": "text", "align": "left", "baseline": "middle", "font": "DejaVu Sans", "fontSize": 18, "fontWeight": "bold", "color": "#111111"},
 "encoding": {
  "x": {"field": "f", "type": "quantitative", "axis": {"orient": "top", "values": [0.6, 0.7, 0.8, 0.9, 2, 3, 4, 5, 6, 7, 8, 9], "labels": false, "domain": false, "grid": false, "ticks": true, "tickSize": -4, "tickWidth": 1.4, "tickColor": "#111111", "title": null}},
  "y": {"field": "E", "type": "quantitative", "axis": {"orient": "right", "values": [0.2, 0.3, 0.4, 0.5, 0.6, 0.7, 0.8, 0.9, 2, 3, 4, 5, 6, 7, 8, 9], "labels": false, "domain": false, "grid": false, "ticks": true, "tickSize": -4, "tickWidth": 1.4, "tickColor": "#111111", "title": null}},
  "text": {"field": "t"}
 }},
{"data": {"name": "legrules"}, "transform": [{"filter": "datum.p == 'c'"}],
 "mark": {"type": "rule", "strokeWidth": 1.7},
 "encoding": {
  "x": {"field": "f1", "type": "quantitative", "axis": null},
  "x2": {"field": "f2"},
  "y": {"field": "E", "type": "quantitative", "axis": null},
  "color": {"field": "s", "type": "nominal", "legend": null},
  "strokeDash": {"field": "s", "type": "nominal", "legend": null}
 }}
]
},
{
"width": 326, "height": 340,
"view": {"stroke": null},
"layer": [
{"data": {"name": "bigbox"},
 "mark": {"type": "rect", "fillOpacity": 0, "stroke": "black", "strokeWidth": 2.2},
 "encoding": {
  "x": {"field": "x1", "type": "quantitative", "scale": {"domain": [0, 100], "nice": false, "zero": false}, "axis": null},
  "x2": {"field": "x2"},
  "y": {"field": "y1", "type": "quantitative", "scale": {"domain": [0, 100], "nice": false, "zero": false}, "axis": null},
  "y2": {"field": "y2"}
 }},
{"data": {"name": "bigtext"},
 "mark": {"type": "text", "align": "left", "baseline": "middle", "font": "DejaVu Sans", "fontSize": 26},
 "encoding": {
  "x": {"field": "x", "type": "quantitative", "axis": null},
  "y": {"field": "y", "type": "quantitative", "axis": null},
  "text": {"field": "t"},
  "color": {"field": "s", "type": "nominal", "scale": {"domain": ["b", "k", "g", "n"], "range": ["#1a1adc", "#111111", "#1d6e1d", "#111111"]}, "legend": null}
 }},
{"data": {"name": "bigsub"},
 "mark": {"type": "text", "align": "left", "baseline": "middle", "font": "DejaVu Sans", "fontSize": 16},
 "encoding": {
  "x": {"field": "x", "type": "quantitative", "axis": null},
  "y": {"field": "y", "type": "quantitative", "axis": null},
  "text": {"field": "t"},
  "color": {"field": "s", "type": "nominal", "legend": null}
 }},
{"data": {"name": "bigrules"},
 "mark": {"type": "rule", "strokeWidth": 2.4},
 "encoding": {
  "x": {"field": "x1", "type": "quantitative", "axis": null},
  "x2": {"field": "x2"},
  "y": {"field": "y", "type": "quantitative", "axis": null},
  "color": {"field": "s", "type": "nominal", "legend": null},
  "strokeDash": {"field": "s", "type": "nominal", "scale": {"domain": ["b", "k", "g"], "range": [[6, 3, 24, 3], [5, 3.5], [2, 14, 26, 4]]}, "legend": null}
 }},
{"data": {"name": "bigdiamond"},
 "mark": {"type": "point", "shape": "diamond", "filled": true, "color": "black", "size": 560, "opacity": 1},
 "encoding": {
  "x": {"field": "x", "type": "quantitative", "axis": null},
  "y": {"field": "y", "type": "quantitative", "axis": null}
 }}
]
}
]
}
